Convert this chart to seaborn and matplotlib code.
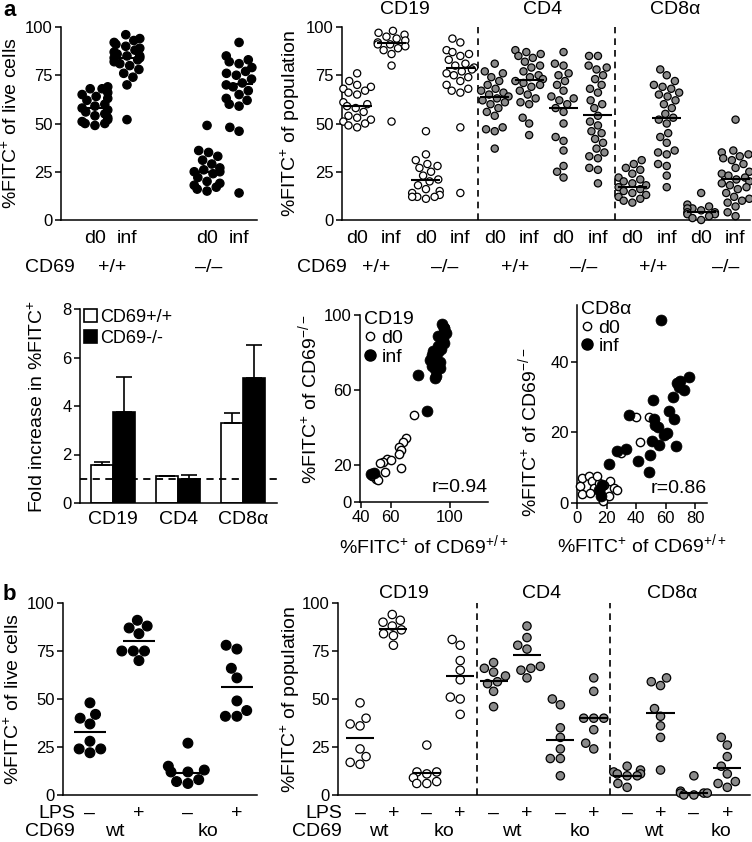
import numpy as np
import pandas as pd
import seaborn as sns
import matplotlib.pyplot as plt
from matplotlib.lines import Line2D

# -------------------------------------------------------------------
# Data
# -------------------------------------------------------------------

# a, left: %FITC+ of live cells (d0 / inf for CD69 +/+ and -/-)
live_pos = [0, 1, 3.5, 4.5]
live_wt_d0 = [69, 68, 68, 66, 65, 64, 63, 62, 60, 59, 58, 57, 56, 55, 54, 53, 52, 51, 50, 50, 49]
live_wt_inf = [96, 94, 93, 92, 91, 90, 89, 88, 87, 86, 85, 85, 84, 84, 83, 82, 81, 80, 78, 76, 74, 70, 52]
live_ko_d0 = [49, 36, 35, 33, 31, 29, 27, 26, 25, 25, 24, 22, 20, 19, 18, 17, 16, 15]
live_ko_inf = [92, 85, 83, 82, 81, 79, 77, 76, 75, 73, 71, 70, 69, 67, 65, 63, 62, 60, 59, 48, 46, 14]
live_medians = [58, 84, 25, 70.5]

# a, right: %FITC+ of population, per cell type
cd19_wt_d0 = [76, 72, 70, 69, 68, 67, 66, 65, 61, 60, 59, 58, 56, 54, 53, 52, 51, 50, 49, 48]
cd19_wt_inf = [98, 97, 96, 95, 94, 93, 92, 91, 91, 90, 89, 88, 86, 80, 51]
cd19_ko_d0 = [46, 34, 31, 29, 28, 27, 25, 23, 21, 20, 18, 16, 15, 14, 13, 12, 12, 12, 11]
cd19_ko_inf = [94, 92, 88, 87, 86, 85, 83, 81, 80, 79, 78, 77, 76, 75, 74, 72, 70, 68, 67, 66, 48, 14]
cd4_wt_d0 = [81, 77, 76, 74, 72, 70, 68, 67, 66, 65, 64, 63, 62, 61, 60, 58, 56, 54, 48, 47, 46, 37]
cd4_wt_inf = [88, 87, 86, 85, 84, 82, 80, 79, 77, 75, 74, 73, 72, 71, 70, 69, 67, 65, 63, 61, 60, 53, 50, 44]
cd4_ko_d0 = [87, 81, 80, 76, 75, 72, 70, 67, 64, 63, 62, 60, 58, 56, 50, 43, 41, 36, 28, 25, 22]
cd4_ko_inf = [85, 85, 80, 79, 78, 75, 73, 70, 68, 66, 62, 60, 58, 54, 51, 49, 46, 45, 42, 40, 37, 35, 33, 32, 27, 26, 19]
cd8_wt_d0 = [31, 29, 27, 26, 24, 22, 21, 20, 19, 18, 17, 16, 15, 14, 13, 12, 11, 10, 9]
cd8_wt_inf = [78, 75, 72, 70, 69, 68, 66, 65, 64, 62, 60, 58, 55, 53, 52, 50, 45, 43, 40, 36, 35, 34, 29, 28, 23, 17]
cd8_ko_d0 = [14, 8, 7, 6, 6, 5, 4, 4, 3, 3, 2, 1, 0]
cd8_ko_inf = [52, 36, 35, 34, 33, 32, 31, 29, 27, 25, 24, 23, 22, 21, 20, 19, 18, 17, 16, 14, 12, 11, 10, 9, 7, 4, 2]
pop_medians = [59, 91.5, 20.5, 78.5, 63.5, 72.5, 58, 54.5, 17, 53, 4, 21]

# a, bar chart: fold increase (mean, upper error)
fold_cells = ["CD19", "CD4", "CD8α"]
fold_wt = [1.55, 1.1, 3.3]
fold_wt_err = [0.15, 0.03, 0.4]
fold_ko = [3.75, 1.0, 5.15]
fold_ko_err = [1.45, 0.15, 1.35]

# a, scatter CD19 (x: CD69+/+, y: CD69-/-)
cd19_d0_x = [75.9, 70.4, 68.7, 66, 67.2, 65.7, 67.2, 57.8, 55.2, 60, 52.6, 56.3, 50.4, 49.8, 47.6, 51.3]
cd19_d0_y = [46.4, 34.4, 32, 29.3, 28, 25.6, 18.4, 23, 21.4, 22.5, 21, 16.2, 13.3, 12.3, 14, 12]
cd19_inf_x = [46.5, 49, 84.6, 78.7, 91, 90, 92.2, 96.5, 97.6, 87.8, 89, 92.2, 94.3, 91, 86.7,
              90, 93.3, 96.5, 95.4, 92.2, 87.8, 93.3, 90, 95, 96]
cd19_inf_y = [15, 15.7, 48.6, 67.8, 67.3, 71, 88.6, 92.9, 90.3, 78.4, 81, 80, 81.8, 76.7, 75.9,
              74.1, 75, 85.2, 87.8, 83.5, 72.6, 71.8, 66.4, 95, 93]

# a, scatter CD8a
cd8_d0_x = [3.4, 2.3, 3.4, 7.9, 10, 11.3, 14.7, 15.8, 17.4, 21.4, 22.6, 24.8, 27.1, 9, 13.5, 18, 40.2, 49, 42.9, 29.8]
cd8_d0_y = [7, 4.7, 2.6, 7.7, 6.1, 4.2, 5.7, 3.3, 0.5, 1.9, 6.1, 4.2, 3.8, 2.8, 7.5, 5.2, 24.2, 24.2, 17.2, 14.2]
cd8_inf_x = [56.8, 35, 27, 33.4, 21.9, 41.3, 14.7, 51.2, 51.9, 53, 54.9, 50.8, 49.7, 49, 55.3,
             58.7, 61, 62, 65.5, 64.8, 67, 67.7, 70, 68.8, 72.2, 75.6, 16, 17]
cd8_inf_y = [51.8, 25, 14.6, 15.3, 11, 12, 3.8, 29, 23.8, 22.2, 21.5, 17.5, 13.5, 8.8, 16.5,
             19.3, 19.8, 26, 23.8, 30, 16, 33.8, 34.4, 32.7, 32, 35.7, 2, 5]

# b, left: %FITC+ of live cells, LPS -/+ for wt and ko
lps_pos = [0, 1, 2, 3]
lps_wt_neg = [48, 40, 42, 37, 28, 24, 24, 22]
lps_wt_pos = [91, 87, 88, 84, 75, 75, 75, 70]
lps_ko_neg = [27, 15, 13, 12, 12, 8, 7, 6]
lps_ko_pos = [78, 76, 66, 61, 49, 44, 41, 41]
lps_medians = [33, 80, 11.7, 56.5]

# b, right: %FITC+ of population
b_cd19_wt_neg = [48, 40, 37, 36, 24, 20, 17, 16]
b_cd19_wt_pos = [94, 91, 90, 88, 86, 84, 83, 78]
b_cd19_ko_neg = [26, 12, 12, 11, 9, 7, 6, 6]
b_cd19_ko_pos = [81, 78, 70, 65, 60, 51, 50, 42]
b_cd4_wt_neg = [69, 66, 64, 62, 59, 58, 54, 46]
b_cd4_wt_pos = [88, 82, 78, 76, 67, 66, 65, 61]
b_cd4_ko_neg = [50, 47, 35, 30, 24, 19, 19, 10]
b_cd4_ko_pos = [61, 54, 40, 40, 40, 34, 27, 24]
b_cd8_wt_neg = [15, 13, 12, 11, 11, 10, 10, 6, 4]
b_cd8_wt_pos = [61, 59, 57, 45, 41, 36, 30, 13]
b_cd8_ko_neg = [10, 2, 1, 1, 1, 0, 0]
b_cd8_ko_pos = [30, 26, 20, 15, 11, 7, 6, 4]
b_pop_medians = [29.6, 86.6, 11.5, 62, 59.5, 72.7, 28.7, 40, 10, 42.6, 1, 14]

# -------------------------------------------------------------------
# Style
# -------------------------------------------------------------------
sns.set_style("ticks")
plt.rcParams.update({
    "font.family": ["Liberation Sans", "DejaVu Sans"],
    "mathtext.fontset": "custom",
    "mathtext.rm": "Liberation Sans",
    "mathtext.it": "Liberation Sans:italic",
    "mathtext.bf": "Liberation Sans:bold",
    "text.color": "black",
    "axes.labelcolor": "black",
    "axes.edgecolor": "black",
    "xtick.color": "black",
    "ytick.color": "black",
    "axes.linewidth": 1.1,
    "xtick.major.width": 1.1,
    "ytick.major.width": 1.1,
    "xtick.major.size": 4,
    "ytick.major.size": 4,
    "xtick.major.pad": 2,
    "ytick.major.pad": 2,
    "xtick.labelsize": 12,
    "ytick.labelsize": 12,
    "axes.labelsize": 14,
})

W, H = 752, 842
fig = plt.figure(figsize=(W / 100, H / 100), dpi=100)
GREY = "#8a8a8a"
CAT = 14


def px_axes(x0, y0, x1, y1):
    return fig.add_axes([x0 / W, 1 - y1 / H, (x1 - x0) / W, (y1 - y0) / H])


def under(ax, x, text, dy, size=CAT):
    # text placed dy pixels below the x axis at data position x
    ax.annotate(text, xy=(x, 0), xycoords=ax.get_xaxis_transform(),
                xytext=(0, -dy * 0.72), textcoords="offset points",
                ha="center", va="center", fontsize=size, annotation_clip=False)


def above(ax, x, text, dy, size=CAT):
    ax.annotate(text, xy=(x, 1), xycoords=ax.get_xaxis_transform(),
                xytext=(0, dy * 0.72), textcoords="offset points",
                ha="center", va="center", fontsize=size, annotation_clip=False)


def fig_text(x, y, text, size=CAT, **kw):
    fig.text(x / W, 1 - y / H, text, fontsize=size, va="center", **kw)


def ylab(ax, text, x_px, yfrac=0.5):
    box = ax.get_position()
    ax.set_ylabel(text, va="center", fontsize=14)
    ax.yaxis.set_label_coords((x_px / W - box.x0) / box.width, yfrac)


def dot_panel(ax, groups, pos, fills, meds, size, half):
    df = pd.DataFrame({
        "pos": np.repeat(pos, [len(g) for g in groups]),
        "val": np.concatenate(groups),
        "fill": np.repeat(fills, [len(g) for g in groups]),
    })
    sns.swarmplot(data=df, x="pos", y="val", hue="fill",
                  palette={f: f for f in set(fills)}, native_scale=True,
                  size=size, edgecolor="black", linewidth=0.9, legend=False,
                  warn_thresh=1, clip_on=False, zorder=3, ax=ax)
    p = np.asarray(pos, dtype=float)
    ax.hlines(meds, p - half, p + half, color="black", lw=1.5, zorder=4)
    ax.set_ylim(0, 100)
    ax.set_yticks([0, 25, 50, 75, 100])
    ax.set_xlabel("")
    sns.despine(ax=ax)


# -------------------------------------------------------------------
# a, left dot plot
# -------------------------------------------------------------------
ax = px_axes(61, 27, 257, 220)
dot_panel(ax, [live_wt_d0, live_wt_inf, live_ko_d0, live_ko_inf], live_pos,
          ["black"] * 4, live_medians, 6, 0.42)
ax.set_xlim(-1.06, 5.06)
ax.set_xticks(live_pos)
ax.set_xticklabels(["d0", "inf", "d0", "inf"], fontsize=CAT)
ax.tick_params(axis="x", length=0, pad=7)
ylab(ax, "%FITC$^{+}$ of live cells", 11)
under(ax, 0.55, "+/+", 47)
under(ax, 3.55, "–/–", 47)
fig_text(75, 267, "CD69", ha="right")

# -------------------------------------------------------------------
# a, right dot plot
# -------------------------------------------------------------------
ax = px_axes(342, 27, 750, 220)
pop_pos = list(range(12))
pop_groups = [cd19_wt_d0, cd19_wt_inf, cd19_ko_d0, cd19_ko_inf,
              cd4_wt_d0, cd4_wt_inf, cd4_ko_d0, cd4_ko_inf,
              cd8_wt_d0, cd8_wt_inf, cd8_ko_d0, cd8_ko_inf]
dot_panel(ax, pop_groups, pop_pos, ["white"] * 4 + [GREY] * 8, pop_medians, 5.2, 0.42)
ax.set_xlim(-0.44, 11.42)
ax.set_xticks(pop_pos)
ax.set_xticklabels(["d0", "inf"] * 6, fontsize=CAT)
ax.tick_params(axis="x", length=0, pad=7)
for xv in [3.5, 7.5]:
    ax.axvline(xv, color="black", ls=(0, (4, 3)), lw=1.2)
ylab(ax, "%FITC$^{+}$ of population", 290)
for xv, t in zip([0.55, 2.55, 4.6, 6.6, 8.6, 10.7], ["+/+", "–/–"] * 3):
    under(ax, xv, t, 47)
for xv, t in zip([1.4, 5.4, 9.25], ["CD19", "CD4", "CD8α"]):
    above(ax, xv, t, 17)
fig_text(347, 267, "CD69", ha="right")

# -------------------------------------------------------------------
# a, bar chart of fold increase
# -------------------------------------------------------------------
ax = px_axes(80, 309, 277, 503)
fold = pd.DataFrame({
    "cell": fold_cells * 2,
    "geno": ["CD69+/+"] * 3 + ["CD69-/-"] * 3,
    "fold": fold_wt + fold_ko,
})
sns.barplot(data=fold, x="cell", y="fold", hue="geno",
            palette={"CD69+/+": "white", "CD69-/-": "black"},
            edgecolor="black", linewidth=1.2, width=0.68, errorbar=None, ax=ax)
for cont, errs in zip(ax.containers, [fold_wt_err, fold_ko_err]):
    for bar, e in zip(cont, errs):
        ax.errorbar(bar.get_x() + bar.get_width() / 2, bar.get_height(),
                    yerr=[[0], [e]], color="black", lw=1.2, capsize=6, capthick=1.2)
ax.axhline(1, color="black", ls=(0, (4, 3)), lw=1.3, zorder=5)
ax.set_ylim(0, 8)
ax.set_yticks([0, 2, 4, 6, 8])
ax.set_xlim(-0.51, 2.52)
ax.set_xlabel("")
ax.tick_params(axis="x", length=0, pad=6, labelsize=CAT)
ylab(ax, "Fold increase in %FITC$^{+}$", 37)
h, l = ax.get_legend_handles_labels()
ax.legend(h, l, loc="upper left", bbox_to_anchor=(0.02, 1.0), frameon=False,
          handlelength=0.75, handleheight=0.75, handletextpad=0.15,
          labelspacing=0.2, borderpad=0, borderaxespad=0, fontsize=13)
sns.despine(ax=ax)


# -------------------------------------------------------------------
# a, scatter plots
# -------------------------------------------------------------------
def scatter_panel(ax, d0x, d0y, infx, infy, title, r):
    sns.scatterplot(x=d0x, y=d0y, marker="o", s=36, facecolor="white",
                    edgecolor="black", linewidth=1, clip_on=False, zorder=3, ax=ax)
    sns.scatterplot(x=infx, y=infy, marker="o", s=62, color="black",
                    edgecolor="black", linewidth=0.5, clip_on=False, zorder=4, ax=ax)
    handles = [Line2D([], [], ls="", marker="o", ms=6, mfc="white", mec="black", mew=1),
               Line2D([], [], ls="", marker="o", ms=8, mfc="black", mec="black")]
    ax.legend(handles, ["d0", "inf"], title=title, alignment="left", loc="upper left",
              bbox_to_anchor=(0.0, 1.04), frameon=False, handlelength=0.6,
              handletextpad=0.3, labelspacing=0.05, borderpad=0, borderaxespad=0.2,
              fontsize=14, title_fontsize=14)
    ax.text(1.0, 0.03, r, transform=ax.transAxes, ha="right", va="bottom", fontsize=14)
    ax.set_xlabel("%FITC$^{+}$ of CD69$^{+/+}$", fontsize=14)
    sns.despine(ax=ax)


ax = px_axes(360, 315, 488, 502)
scatter_panel(ax, cd19_d0_x, cd19_d0_y, cd19_inf_x, cd19_inf_y, "CD19", "r=0.94")
ax.set_xlim(39.3, 126)
ax.set_ylim(0, 100)
ax.set_xticks([40, 60, 100])
ax.set_yticks([0, 20, 60, 100])
ylab(ax, "%FITC$^{+}$ of CD69$^{-/-}$", 308, 0.55)
ax.xaxis.set_label_coords(0.5, -0.165)

ax = px_axes(577, 305, 707, 503)
scatter_panel(ax, cd8_d0_x, cd8_d0_y, cd8_inf_x, cd8_inf_y, "CD8α", "r=0.86")
ax.set_xlim(0, 88)
ax.set_ylim(0, 56)
ax.set_xticks([0, 20, 40, 60, 80])
ax.set_yticks([0, 20, 40])
ylab(ax, "%FITC$^{+}$ of CD69$^{-/-}$", 528, 0.36)
ax.xaxis.set_label_coords(0.5, -0.15)

# -------------------------------------------------------------------
# b, left dot plot
# -------------------------------------------------------------------
ax = px_axes(63, 603, 257, 795)
dot_panel(ax, [lps_wt_neg, lps_wt_pos, lps_ko_neg, lps_ko_pos], lps_pos,
          ["black"] * 4, lps_medians, 7, 0.33)
ax.set_xlim(-0.55, 3.41)
ax.set_xticks(lps_pos)
ax.set_xticklabels(["–", "+"] * 2, fontsize=CAT)
ax.tick_params(axis="x", length=0, pad=7)
ylab(ax, "%FITC$^{+}$ of live cells", 13)
under(ax, 0.5, "wt", 37)
under(ax, 2.4, "ko", 37)
fig_text(75, 813, "LPS", ha="right")
fig_text(75, 832, "CD69", ha="right")

# -------------------------------------------------------------------
# b, right dot plot
# -------------------------------------------------------------------
ax = px_axes(338, 603, 750, 795)
b_groups = [b_cd19_wt_neg, b_cd19_wt_pos, b_cd19_ko_neg, b_cd19_ko_pos,
            b_cd4_wt_neg, b_cd4_wt_pos, b_cd4_ko_neg, b_cd4_ko_pos,
            b_cd8_wt_neg, b_cd8_wt_pos, b_cd8_ko_neg, b_cd8_ko_pos]
dot_panel(ax, b_groups, pop_pos, ["white"] * 4 + [GREY] * 8, b_pop_medians, 6, 0.42)
ax.set_xlim(-0.66, 11.68)
ax.set_xticks(pop_pos)
ax.set_xticklabels(["–", "+"] * 6, fontsize=CAT)
ax.tick_params(axis="x", length=0, pad=7)
for xv in [3.5, 7.5]:
    ax.axvline(xv, color="black", ls=(0, (4, 3)), lw=1.2)
ylab(ax, "%FITC$^{+}$ of population", 290)
for xv, t in zip([0.55, 2.5, 4.55, 6.6, 8.8, 10.8], ["wt", "ko"] * 3):
    under(ax, xv, t, 37)
for xv, t in zip([1.3, 5.45, 9.35], ["CD19", "CD4", "CD8α"]):
    above(ax, xv, t, 10)
fig_text(342, 813, "LPS", ha="right")
fig_text(342, 832, "CD69", ha="right")

# panel letters
fig_text(10, 10, "a", size=16, ha="center", fontweight="bold")
fig_text(9, 594, "b", size=16, ha="center", fontweight="bold")

fig.savefig("out.png", dpi=100)
